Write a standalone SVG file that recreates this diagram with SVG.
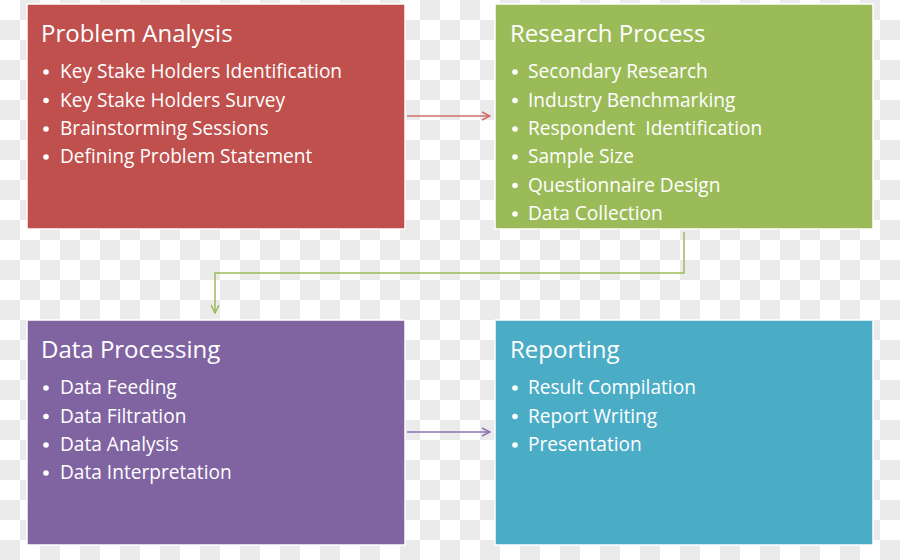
<svg xmlns="http://www.w3.org/2000/svg" width="900" height="560" viewBox="0 0 900 560">
<defs>
<pattern id="chk" width="40" height="40" patternUnits="userSpaceOnUse">
<rect width="40" height="40" fill="#ffffff"/>
<rect x="20" y="0" width="20" height="20" fill="#ebebeb"/>
<rect x="0" y="20" width="20" height="20" fill="#ebebeb"/>
</pattern>
<marker id="ahR" viewBox="0 0 10 10" refX="9" refY="5" markerWidth="10" markerHeight="10" markerUnits="userSpaceOnUse" orient="auto"><path d="M1,1 L9,5 L1,9" fill="none" stroke="#d06e6b" stroke-width="1.5"/></marker>
<marker id="ahG" viewBox="0 0 10 10" refX="9" refY="5" markerWidth="10" markerHeight="10" markerUnits="userSpaceOnUse" orient="auto"><path d="M1,1 L9,5 L1,9" fill="none" stroke="#9bbb59" stroke-width="1.5"/></marker>
<marker id="ahP" viewBox="0 0 10 10" refX="9" refY="5" markerWidth="10" markerHeight="10" markerUnits="userSpaceOnUse" orient="auto"><path d="M1,1 L9,5 L1,9" fill="none" stroke="#8c72b0" stroke-width="1.5"/></marker>
</defs>
<style>
.box{stroke:#ffffff;stroke-width:1.5}
.t{font-family:"Open Sans","Liberation Sans",sans-serif;fill:#ffffff}
.h{font-size:24px}
.b{font-size:19.1px}
.dot{fill:#ffffff}
.con{fill:none;stroke-width:1.5}
</style>
<rect width="900" height="560" fill="url(#chk)"/>
<g id="connectors">
<path class="con" d="M407,116 H490" stroke="#d06e6b" marker-end="url(#ahR)"/>
<path class="con" d="M684,232 V273 H215 V313" stroke="#9bbb59" marker-end="url(#ahG)"/>
<path class="con" d="M407,432 H490" stroke="#8c72b0" marker-end="url(#ahP)"/>
</g>
<g id="problem-analysis">
<rect class="box" x="27" y="4" width="378" height="225" fill="#c0504d"/>
<text class="t h" x="41" y="42">Problem Analysis</text>
<g class="t b">
<circle class="dot" cx="46" cy="72" r="2.8"/><text x="60" y="78">Key Stake Holders Identification</text>
<circle class="dot" cx="46" cy="100.5" r="2.8"/><text x="60" y="107">Key Stake Holders Survey</text>
<circle class="dot" cx="46" cy="129" r="2.8"/><text x="60" y="135">Brainstorming Sessions</text>
<circle class="dot" cx="46" cy="157" r="2.8"/><text x="60" y="163">Defining Problem Statement</text>
</g>
</g>
<g id="research-process">
<rect class="box" x="495" y="4" width="378" height="225" fill="#9bbb59"/>
<text class="t h" x="510" y="42">Research Process</text>
<g class="t b">
<circle class="dot" cx="515" cy="72" r="2.8"/><text x="528" y="78">Secondary Research</text>
<circle class="dot" cx="515" cy="100.5" r="2.8"/><text x="528" y="107">Industry Benchmarking</text>
<circle class="dot" cx="515" cy="129" r="2.8"/><text x="528" y="135">Respondent&#160; Identification</text>
<circle class="dot" cx="515" cy="157" r="2.8"/><text x="528" y="163">Sample Size</text>
<circle class="dot" cx="515" cy="185.5" r="2.8"/><text x="528" y="192">Questionnaire Design</text>
<circle class="dot" cx="515" cy="214" r="2.8"/><text x="528" y="220">Data Collection</text>
</g>
</g>
<g id="data-processing">
<rect class="box" x="27" y="320" width="378" height="225" fill="#8064a2"/>
<text class="t h" x="41" y="358">Data Processing</text>
<g class="t b">
<circle class="dot" cx="46" cy="388" r="2.8"/><text x="60" y="394">Data Feeding</text>
<circle class="dot" cx="46" cy="416.5" r="2.8"/><text x="60" y="423">Data Filtration</text>
<circle class="dot" cx="46" cy="445" r="2.8"/><text x="60" y="451">Data Analysis</text>
<circle class="dot" cx="46" cy="473" r="2.8"/><text x="60" y="479">Data Interpretation</text>
</g>
</g>
<g id="reporting">
<rect class="box" x="495" y="320" width="378" height="225" fill="#4bacc6"/>
<text class="t h" x="510" y="358">Reporting</text>
<g class="t b">
<circle class="dot" cx="515" cy="388" r="2.8"/><text x="528" y="394">Result Compilation</text>
<circle class="dot" cx="515" cy="416.5" r="2.8"/><text x="528" y="423">Report Writing</text>
<circle class="dot" cx="515" cy="445" r="2.8"/><text x="528" y="451">Presentation</text>
</g>
</g>
</svg>
